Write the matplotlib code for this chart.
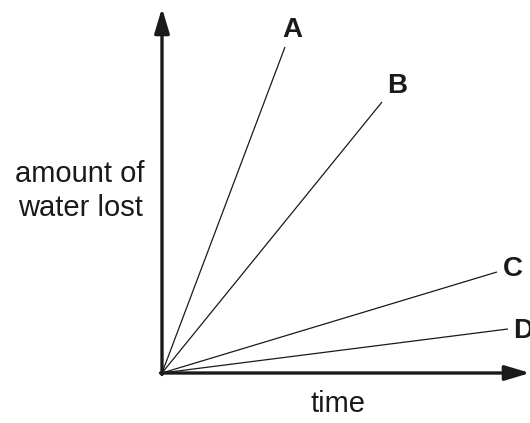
import matplotlib
matplotlib.use('Agg')
import matplotlib.pyplot as plt

plt.rcParams['font.family'] = ['Liberation Sans', 'DejaVu Sans']

# end points of each line (time, amount of water lost), origin at (0, 0)
labels = ['A', 'B', 'C', 'D']
time_end = [123, 220, 335, 346]
water_end = [326, 271, 101, 44]
# label offsets from line ends
label_dx = [7, 15, 16, 15]
label_dy = [17, 16, 3, -2]

fig = plt.figure(figsize=(5.3, 4.23), dpi=100)
ax = fig.add_axes([0, 0, 1, 1])
ax.set_xlim(-162, 368)
ax.set_ylim(-50, 373)
ax.axis('off')

for lab, x, y, dx, dy in zip(labels, time_end, water_end, label_dx, label_dy):
    ax.plot([0, x], [0, y], color='#1a1a1a', linewidth=0.9, solid_capstyle='butt')
    ax.text(x + dx, y + dy, lab, fontsize=20, fontweight='bold', ha='center', va='center', color='#1a1a1a')

# axes with arrows
arrow = dict(arrowstyle='-|>,head_length=1.5,head_width=0.45', color='#1a1a1a', lw=2.4,
             shrinkA=0, shrinkB=0)
ax.annotate('', xy=(0, 365), xytext=(0, -1.5), arrowprops=arrow, annotation_clip=False)
ax.annotate('', xy=(368, 0), xytext=(-1.5, 0), arrowprops=arrow, annotation_clip=False)

ax.text(-82, 182, 'amount of\nwater lost', fontsize=21, ha='center', va='center',
        linespacing=1.25, color='#1a1a1a')
ax.text(176, -31, 'time', fontsize=21, ha='center', va='center', color='#1a1a1a')

fig.savefig('out.png', dpi=100)
